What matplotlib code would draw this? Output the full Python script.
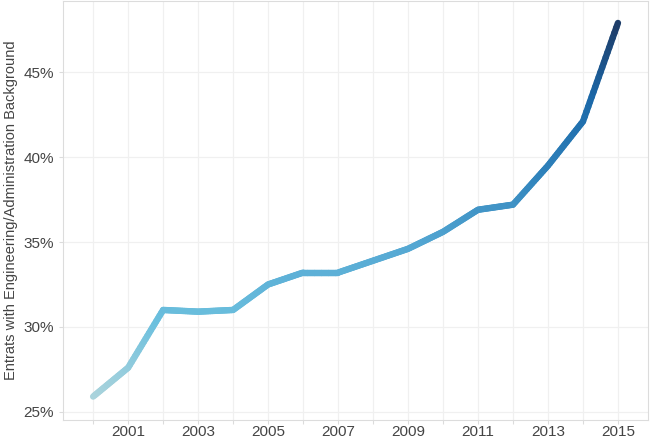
import numpy as np
import matplotlib.pyplot as plt
from matplotlib.collections import LineCollection
from matplotlib.colors import LinearSegmentedColormap, Normalize
from matplotlib.ticker import FuncFormatter

plt.rcParams['font.family'] = ['Liberation Sans', 'DejaVu Sans']

years = [2000, 2001, 2002, 2003, 2004, 2005, 2006, 2007,
         2008, 2009, 2010, 2011, 2012, 2013, 2014, 2015]
share = [25.9, 27.6, 31.0, 30.9, 31.0, 32.5, 33.2, 33.2,
         33.9, 34.6, 35.6, 36.9, 37.2, 39.5, 42.1, 47.9]

cmap = LinearSegmentedColormap.from_list(
    'tab_blue', ['#aad3dc', '#6cc0de', '#55a8d3', '#2f82bb', '#1b68a8', '#1e3b66'])

fig, ax = plt.subplots(figsize=(6.5, 4.41), dpi=100)
fig.subplots_adjust(left=0.097, right=0.997, top=0.998, bottom=0.048)

# densify segments so the colour runs smoothly along the line
xs, ys = [], []
for i in range(len(years) - 1):
    t = np.linspace(0, 1, 20, endpoint=False)
    xs.extend(years[i] + t * (years[i + 1] - years[i]))
    ys.extend(share[i] + t * (share[i + 1] - share[i]))
xs.append(years[-1]); ys.append(share[-1])
pts = np.column_stack([xs, ys]).reshape(-1, 1, 2)
segs = np.concatenate([pts[:-1], pts[1:]], axis=1)
lc = LineCollection(segs, cmap=cmap, norm=Normalize(min(share), max(share)),
                    linewidth=4.6, capstyle='round', joinstyle='round')
lc.set_array(np.array(ys[:-1]))
ax.add_collection(lc)

ax.set_xlim(1999.14, 2015.86)
ax.set_ylim(24.53, 49.2)
ax.set_xticks(years)
ax.set_xticklabels([str(y) if y % 2 else '' for y in years])
ax.set_yticks([25, 30, 35, 40, 45])
ax.yaxis.set_major_formatter(FuncFormatter(lambda v, p: f'{v:.0f}%'))
ax.set_ylabel('Entrats with Engineering/Administration Background',
              fontsize=10.5, color='#444444', labelpad=4)

ax.grid(True, color='#f0f0f0', lw=0.9)
ax.set_axisbelow(True)
for s in ax.spines.values():
    s.set_color('#dcdcdc')
ax.tick_params(length=3, color='#dcdcdc', labelcolor='#444444', labelsize=11)
ax.tick_params(axis='x', pad=1)

plt.savefig('out.png', dpi=100)
